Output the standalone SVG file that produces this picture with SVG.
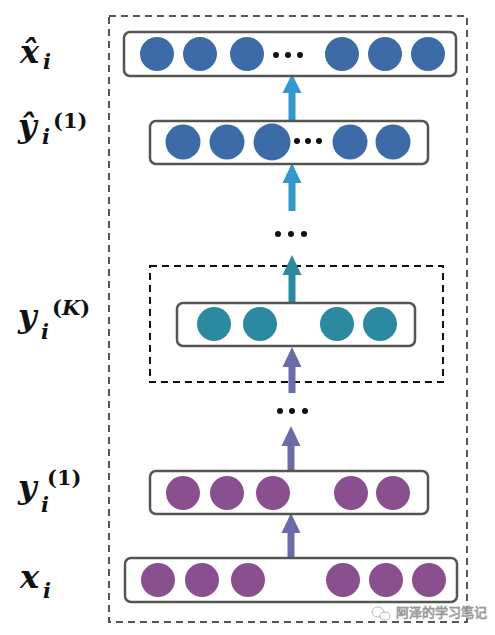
<svg xmlns="http://www.w3.org/2000/svg" width="495" height="635" viewBox="0 0 495 635">
<style>
.box{fill:#fff;stroke:#555;stroke-width:2.5}
.blue{fill:#3D6BA8}
.teal{fill:#2B8A9F}
.purp{fill:#8A4F8E}
.dot{fill:#111}
.lab{font-family:"DejaVu Serif","Liberation Serif",serif;font-weight:bold;font-style:italic;fill:#111}
.up{font-style:normal}
.wm{font-family:"Noto Sans CJK SC",sans-serif;font-size:13px;fill:#fff;stroke:#999;stroke-width:0.8}
</style>
<rect width="495" height="635" fill="#fff"/>
<rect x="109" y="16" width="358" height="606" fill="none" stroke="#555" stroke-width="2" stroke-dasharray="7,5"/>
<rect x="150" y="266" width="293" height="116" fill="none" stroke="#111" stroke-width="2" stroke-dasharray="7,5"/>

<g id="connectors">
<path d="M288.5,120 V93 H282.5 L292,74 L301.5,93 H295.5 V120 Z" fill="#3399CC"/>
<path d="M288.5,211 V183 H282.5 L292,163 L301.5,183 H295.5 V211 Z" fill="#3399CC"/>
<path d="M288.5,303 V275 H282.5 L292,255 L301.5,275 H295.5 V303 Z" fill="#2B8A9F"/>
<path d="M288.5,393 V367 H282.5 L292,347 L301.5,367 H295.5 V393 Z" fill="#6B6BA8"/>
<path d="M287.5,472 V446 H281.5 L291,426 L300.5,446 H294.5 V472 Z" fill="#6B6BA8"/>
<path d="M287.5,558 V533 H281.5 L291,513 L300.5,533 H294.5 V558 Z" fill="#6B6BA8"/>
</g>

<g id="gap-dots">
<circle class="dot" cx="278" cy="234" r="3"/><circle class="dot" cx="291" cy="234" r="3"/><circle class="dot" cx="304" cy="234" r="3"/>
<circle class="dot" cx="280" cy="411" r="3"/><circle class="dot" cx="292" cy="411" r="3"/><circle class="dot" cx="305" cy="411" r="3"/>
</g>

<g id="layer-xhat">
<rect class="box" x="124" y="32" width="332" height="44" rx="6"/>
<circle class="blue" cx="157" cy="54" r="17"/><circle class="blue" cx="200" cy="54" r="17"/><circle class="blue" cx="247" cy="54" r="17"/>
<circle class="dot" cx="276" cy="55" r="3"/><circle class="dot" cx="288" cy="55" r="3"/><circle class="dot" cx="300" cy="55" r="3"/>
<circle class="blue" cx="342" cy="54" r="17"/><circle class="blue" cx="385" cy="54" r="17"/><circle class="blue" cx="428" cy="54" r="17"/>
</g>

<g id="layer-yhat">
<rect class="box" x="150" y="121" width="278" height="43" rx="6"/>
<circle class="blue" cx="183" cy="142" r="17.5"/><circle class="blue" cx="227" cy="142" r="17.5"/><circle class="blue" cx="272" cy="142" r="18.5"/>
<circle class="dot" cx="297" cy="141" r="3"/><circle class="dot" cx="308" cy="141" r="3"/><circle class="dot" cx="319" cy="141" r="3"/>
<circle class="blue" cx="350" cy="142" r="17.5"/><circle class="blue" cx="393" cy="142" r="17.5"/>
</g>

<g id="layer-yK">
<rect class="box" x="177" y="303" width="238" height="43" rx="6"/>
<circle class="teal" cx="214" cy="324" r="17"/><circle class="teal" cx="260" cy="324" r="17"/>
<circle class="teal" cx="337" cy="324" r="17"/><circle class="teal" cx="380" cy="324" r="17"/>
</g>

<g id="layer-y1">
<rect class="box" x="150" y="471" width="278" height="43" rx="6"/>
<circle class="purp" cx="183" cy="493" r="17"/><circle class="purp" cx="227" cy="493" r="17"/><circle class="purp" cx="273" cy="493" r="17"/>
<circle class="purp" cx="351" cy="493" r="17"/><circle class="purp" cx="393" cy="493" r="17"/>
</g>

<g id="layer-x">
<rect class="box" x="125" y="558" width="332" height="44" rx="6"/>
<circle class="purp" cx="158" cy="580" r="17"/><circle class="purp" cx="202" cy="580" r="17"/><circle class="purp" cx="248" cy="580" r="17"/>
<circle class="purp" cx="343" cy="580" r="17"/><circle class="purp" cx="386" cy="580" r="17"/><circle class="purp" cx="429" cy="580" r="17"/>
</g>

<g id="labels">
<text class="lab"><tspan x="20" y="63" font-size="32">x̂</tspan><tspan x="43" y="69" font-size="21">i</tspan></text>
<text class="lab"><tspan x="18" y="137" font-size="32">ŷ</tspan><tspan x="42" y="144" font-size="21">i</tspan><tspan class="up" x="53" y="128" font-size="21">(1)</tspan></text>
<text class="lab"><tspan x="18" y="327" font-size="32">y</tspan><tspan x="41" y="339" font-size="21">i</tspan><tspan class="up" x="52" y="315" font-size="21">(<tspan font-style="italic">K</tspan>)</tspan></text>
<text class="lab"><tspan x="18" y="498" font-size="32">y</tspan><tspan x="41" y="512" font-size="21">i</tspan><tspan class="up" x="47" y="485" font-size="21">(1)</tspan></text>
<text class="lab"><tspan x="20" y="588" font-size="32">x</tspan><tspan x="43" y="598" font-size="21">i</tspan></text>
</g>

<g id="watermark">
<ellipse cx="378" cy="612" rx="6" ry="5" fill="#fff" stroke="#aaa" stroke-width="0.8"/>
<ellipse cx="385" cy="616" rx="5" ry="4" fill="#fff" stroke="#aaa" stroke-width="0.8"/>
<text class="wm" x="396" y="617">阿泽的学习笔记</text>
</g>
</svg>
